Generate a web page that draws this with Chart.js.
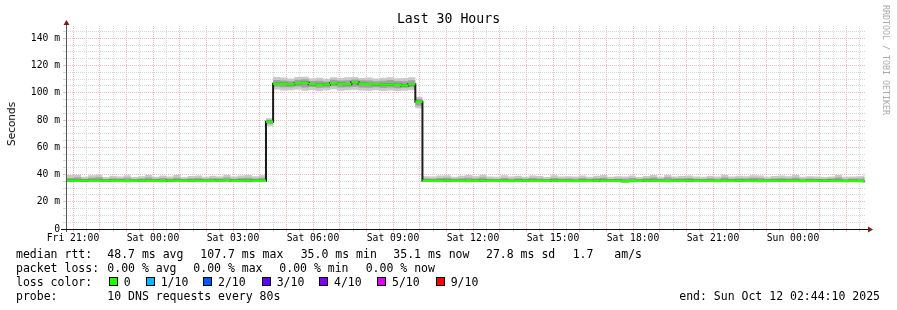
<!DOCTYPE html>
<html>
<head>
<meta charset="utf-8">
<title>Last 30 Hours</title>
<script src="https://cdn.jsdelivr.net/npm/chart.js@4/dist/chart.umd.min.js"></script>
<style>
  html, body { margin:0; padding:0; background:#fff; }
  #wrap { position:relative; width:897px; height:310px; overflow:hidden; background:#fff; font-family:'DejaVu Sans Mono', monospace; color:#000; }
  #wrap canvas { position:absolute; left:0; top:0; }
  .t { position:absolute; white-space:pre; font-size:11.5px; line-height:14px; height:14px; }
  .box { position:absolute; width:7px; height:7px; border:1px solid #000; }
  #title { position:absolute; left:0; width:897px; top:11px; text-align:center; font-size:13.2px; line-height:16px; }
  #ylab { position:absolute; left:5px; top:102px; writing-mode:vertical-rl; transform:rotate(180deg); font-family:'DejaVu Sans', sans-serif; font-size:10.5px; line-height:12px; }
  #rrd { position:absolute; left:881px; top:5px; writing-mode:vertical-rl; font-size:8.3px; line-height:10px; color:#aaa; }
</style>
</head>
<body>
<div id="wrap">
  <canvas id="c" width="897" height="310"></canvas>
  <div id="title">Last 30 Hours</div>
  <div id="ylab">Seconds</div>
  <div id="rrd">RRDTOOL / TOBI OETIKER</div>

  <div class="t" style="left:16px;top:247px">median rtt:</div>
  <div class="t" style="left:107.3px;top:247px">48.7 ms avg</div>
  <div class="t" style="left:200.3px;top:247px">107.7 ms max</div>
  <div class="t" style="left:300.7px;top:247px">35.0 ms min</div>
  <div class="t" style="left:393.3px;top:247px">35.1 ms now</div>
  <div class="t" style="left:486px;top:247px">27.8 ms sd</div>
  <div class="t" style="left:572.7px;top:247px">1.7</div>
  <div class="t" style="left:614.3px;top:247px">am/s</div>

  <div class="t" style="left:16px;top:261px">packet loss:</div>
  <div class="t" style="left:107.3px;top:261px">0.00 % avg</div>
  <div class="t" style="left:193.3px;top:261px">0.00 % max</div>
  <div class="t" style="left:279.3px;top:261px">0.00 % min</div>
  <div class="t" style="left:365.7px;top:261px">0.00 % now</div>

  <div class="t" style="left:16px;top:275px">loss color:</div>
  <div id="loss"></div>

  <div class="t" style="left:16px;top:289px">probe:</div>
  <div class="t" style="left:107.3px;top:289px">10 DNS requests every 80s</div>
  <div class="t" style="right:17px;top:289px">end: Sun Oct 12 02:44:10 2025</div>
</div>
<script>
// one value per 16 minute RRD row, first row starts right at the left edge
const median = [
  35.6, 35.5, 35.6, 35.4, 35.5, 35.6, 35.5, 35.4, 35.3, 35.5,
  35.6, 35.4, 35.5, 35.3, 35.6, 35.5, 35.4, 35.6, 35.5, 35.4,
  35.5, 35.6, 35.7, 35.5, 35.4, 35.6, 35.5, 35.4, 78.8, 106.7,
  106.6, 106.2, 107.0, 107.4, 106.2, 105.9, 106.0, 107.0, 106.7, 106.3,
  107.7, 106.7, 106.5, 106.2, 106.1, 106.0, 105.8, 105.3, 106.2, 93.4,
  35.5, 35.4, 35.5, 35.6, 35.5, 35.4, 35.3, 35.5, 35.6, 35.5,
  35.4, 35.5, 35.3, 35.4, 35.6, 35.5, 35.4, 35.5, 35.6, 35.5,
  35.4, 35.3, 35.5, 35.4, 35.6, 35.5, 35.4, 35.5, 35.0, 35.3,
  35.5, 35.6, 35.4, 35.5, 35.3, 35.4, 35.5, 35.6, 35.5, 35.4,
  35.5, 35.3, 35.4, 35.5, 35.6, 35.4, 35.5, 35.3, 35.4, 35.5,
  35.6, 35.5, 35.4, 35.3, 35.5, 35.4, 35.6, 35.5, 35.4, 35.3,
  35.4, 35.2, 35.1
];
// smoke: slowest / fastest ping of the row
const smokeHi = [
  39.6, 39.8, 38.4, 39.5, 39.9, 38.2, 39.0, 38.6, 39.4, 38.1,
  38.8, 39.7, 38.3, 39.2, 38.5, 39.6, 38.2, 38.9, 39.3, 38.4,
  39.1, 38.6, 39.8, 38.5, 39.2, 39.7, 38.8, 39.5, 81.3, 111.6,
  111.2, 110.4, 111.5, 111.8, 110.6, 111.0, 110.2, 111.4, 110.8, 111.3,
  111.6, 110.9, 111.2, 110.5, 111.0, 111.4, 110.6, 110.8, 111.3, 97.0,
  38.7, 38.5, 39.2, 39.5, 38.4, 39.1, 39.6, 38.8, 39.8, 38.5,
  38.3, 39.4, 38.6, 39.0, 38.4, 39.2, 38.9, 38.2, 39.4, 38.6,
  38.8, 38.5, 39.3, 38.4, 39.0, 39.6, 38.3, 38.7, 38.5, 39.2,
  38.2, 38.9, 39.7, 38.4, 39.9, 38.6, 38.9, 39.3, 38.5, 38.4,
  39.1, 38.6, 39.8, 38.5, 39.0, 38.7, 39.5, 39.2, 38.4, 38.9,
  39.3, 38.8, 39.6, 38.4, 38.7, 38.5, 38.2, 38.6, 39.8, 38.3,
  38.6, 38.8, 39.9
];
const smokeLo = [
  35.1, 35.0, 35.2, 35.0, 35.1, 35.2, 35.1, 35.0, 35.0, 35.1,
  35.2, 35.0, 35.1, 35.0, 35.2, 35.1, 35.0, 35.2, 35.1, 35.0,
  35.1, 35.2, 35.3, 35.1, 35.0, 35.2, 35.1, 35.0, 75.6, 102.3,
  101.6, 101.9, 102.4, 101.4, 102.0, 101.3, 101.8, 102.6, 101.5, 101.9,
  102.2, 101.7, 101.4, 101.8, 101.3, 101.6, 101.2, 101.5, 101.9, 88.6,
  35.1, 35.0, 35.1, 35.2, 35.1, 35.0, 35.0, 35.1, 35.2, 35.1,
  35.0, 35.1, 35.0, 35.0, 35.2, 35.1, 35.0, 35.1, 35.2, 35.1,
  35.0, 35.0, 35.1, 35.0, 35.2, 35.1, 35.0, 35.1, 34.8, 35.0,
  35.1, 35.2, 35.0, 35.1, 35.0, 35.0, 35.1, 35.2, 35.1, 35.0,
  35.1, 35.0, 35.0, 35.1, 35.2, 35.0, 35.1, 35.0, 35.0, 35.1,
  35.2, 35.1, 35.0, 35.0, 35.1, 35.0, 35.2, 35.1, 35.0, 35.0,
  35.0, 34.9, 34.9
];
// inner, darker part of the smoke
const coreHi = [
  37.4, 37.9, 36.8, 37.6, 38.0, 36.7, 37.2, 37.0, 37.7, 36.6,
  37.1, 37.8, 36.9, 37.5, 36.8, 37.6, 36.7, 37.3, 37.5, 36.9,
  37.3, 37.0, 37.8, 36.9, 37.4, 37.7, 37.1, 37.6, 80.2, 109.4,
  109.0, 108.4, 109.6, 110.0, 108.6, 108.8, 108.3, 109.5, 109.0, 109.2,
  109.8, 109.1, 109.0, 108.5, 108.9, 109.3, 108.6, 108.4, 109.1, 95.6,
  37.0, 36.8, 37.4, 37.6, 36.8, 37.3, 37.7, 37.0, 37.8, 36.9,
  36.7, 37.5, 36.9, 37.2, 36.8, 37.4, 37.1, 36.6, 37.5, 36.9,
  37.1, 36.8, 37.5, 36.8, 37.2, 37.7, 36.7, 37.0, 36.9, 37.4,
  36.6, 37.2, 37.8, 36.8, 37.9, 37.0, 37.2, 37.5, 36.8, 36.7,
  37.3, 36.9, 37.8, 36.8, 37.2, 37.0, 37.6, 37.4, 36.7, 37.1,
  37.5, 37.1, 37.7, 36.8, 37.0, 36.9, 36.6, 37.0, 37.8, 36.7,
  37.0, 37.1, 38.0
];
const coreLo = [
  35.3, 35.2, 35.3, 35.2, 35.3, 35.4, 35.3, 35.2, 35.1, 35.3,
  35.4, 35.2, 35.3, 35.1, 35.4, 35.3, 35.2, 35.4, 35.3, 35.2,
  35.3, 35.4, 35.5, 35.3, 35.2, 35.4, 35.3, 35.2, 77.0, 104.4,
  104.0, 104.1, 104.6, 103.8, 104.2, 103.7, 103.9, 104.7, 103.8, 104.0,
  104.5, 103.9, 103.6, 104.0, 103.5, 103.8, 103.4, 103.6, 104.0, 90.5,
  35.3, 35.2, 35.3, 35.4, 35.3, 35.2, 35.1, 35.3, 35.4, 35.3,
  35.2, 35.3, 35.1, 35.2, 35.4, 35.3, 35.2, 35.3, 35.4, 35.3,
  35.2, 35.1, 35.3, 35.2, 35.4, 35.3, 35.2, 35.3, 34.9, 35.1,
  35.3, 35.4, 35.2, 35.3, 35.1, 35.2, 35.3, 35.4, 35.3, 35.2,
  35.3, 35.1, 35.2, 35.3, 35.4, 35.2, 35.3, 35.1, 35.2, 35.3,
  35.4, 35.3, 35.2, 35.1, 35.3, 35.2, 35.4, 35.3, 35.2, 35.1,
  35.2, 35.0, 35.0
];
const xLabels = ['Fri 21:00', 'Sat 00:00', 'Sat 03:00', 'Sat 06:00', 'Sat 09:00',
                 'Sat 12:00', 'Sat 15:00', 'Sat 18:00', 'Sat 21:00', 'Sun 00:00'];
const lossLabels = ['0', '1/10', '2/10', '3/10', '4/10', '5/10', '9/10'];
const lossColors = ['#26ff00', '#00b8ff', '#0059ff', '#5e00ff', '#7e00ff', '#dd00ff', '#ff0000'];

// time axis in hours since Fri 20:44:10
const T0 = 0.033, STEP = 16 / 60, END_H = 29.95;
const FIRST_TICK = 0.2639;   // Fri 21:00
const RED = '#f5b8b8', GREY = '#d6d6d6';
const MONO = "'DejaVu Sans Mono', monospace";

(function () {
  // loss colour legend
  const lossX = [108.7, 145.7, 203, 261.7, 319, 377, 435.7];
  const loss = document.getElementById('loss');
  lossLabels.forEach((l, i) => {
    loss.insertAdjacentHTML('beforeend',
      `<div class="box" style="left:${lossX[i]}px;top:277px;background:${lossColors[i]}"></div>` +
      `<div class="t" style="left:${lossX[i] + 15}px;top:275px">${l}</div>`);
  });

  function steps(vals) {
    const pts = vals.map((v, i) => ({ x: T0 + i * STEP, y: v }));
    pts.push({ x: END_H, y: vals[vals.length - 1] });
    return pts;
  }
  // only the flat parts, the jumps stay black
  function flats(vals) {
    const pts = [];
    vals.forEach((v, i) => {
      const a = T0 + i * STEP, b = Math.min(a + STEP, END_H);
      pts.push({ x: a, y: v }, { x: b, y: v }, { x: b, y: null });
    });
    return pts;
  }

  const axes = {
    id: 'axes',
    afterDraw(chart) {
      const { ctx, chartArea: a } = chart;
      const l = a.left + 0.5, b = a.bottom + 0.5;
      ctx.save();
      ctx.lineWidth = 1;
      ctx.strokeStyle = '#555';
      ctx.beginPath(); ctx.moveTo(l, a.bottom + 3); ctx.lineTo(l, a.top - 3); ctx.stroke();
      ctx.strokeStyle = '#111';
      ctx.beginPath(); ctx.moveTo(a.left - 5, b); ctx.lineTo(a.right + 2, b); ctx.stroke();
      ctx.fillStyle = '#7a1c1c';
      ctx.beginPath(); ctx.moveTo(l, a.top - 6); ctx.lineTo(l - 3, a.top - 1); ctx.lineTo(l + 3, a.top - 1); ctx.fill();
      ctx.beginPath(); ctx.moveTo(a.right + 7, b); ctx.lineTo(a.right + 2, b - 3); ctx.lineTo(a.right + 2, b + 3); ctx.fill();
      ctx.restore();
    }
  };

  const band = { pointRadius: 0, borderWidth: 0, borderColor: 'transparent', stepped: true };

  new Chart(document.getElementById('c'), {
    type: 'line',
    data: {
      datasets: [
        { data: flats(median), borderColor: '#26ff00', borderWidth: 2.5, borderCapStyle: 'butt', pointRadius: 0, spanGaps: false, order: 0 },
        { data: steps(median), stepped: true, borderColor: '#1c1c1c', borderWidth: 2, pointRadius: 0, order: 1 },
        { data: steps(coreHi), ...band, fill: '+1', backgroundColor: '#a2a2a2', order: 2 },
        { data: steps(coreLo), ...band, order: 3 },
        { data: steps(smokeHi), ...band, fill: '+1', backgroundColor: '#c9c9c9', order: 4 },
        { data: steps(smokeLo), ...band, order: 5 },
      ]
    },
    options: {
      responsive: false,
      animation: false,
      devicePixelRatio: 1,
      events: [],
      layout: { padding: { top: 26, right: 31, bottom: 61, left: 0 } },
      plugins: { legend: { display: false }, tooltip: { enabled: false }, title: { display: false } },
      scales: {
        x: {
          type: 'linear', min: 0, max: 30,
          afterBuildTicks: s => {
            const t = [];
            for (let h = FIRST_TICK; h < 30; h += 0.5) t.push({ value: h });
            s.ticks = t;
          },
          afterFit: s => { s.height = 20; },
          grid: { color: c => c.index % 2 === 0 ? RED : GREY, tickLength: 3, tickBorderDash: [] },
          border: { display: false, dash: [1, 1] },
          ticks: {
            autoSkip: false, maxRotation: 0, padding: 1, color: '#000',
            font: { family: MONO, size: 9.7 },
            callback: (v, i) => i % 6 === 0 ? xLabels[i / 6] : ''
          }
        },
        y: {
          min: 0, max: 149,
          afterBuildTicks: s => {
            const t = [];
            for (let v = 0; v <= 145; v += 5) t.push({ value: v });
            s.ticks = t;
          },
          afterFit: s => { s.width = 66; },
          grid: { color: c => c.tick && c.tick.value % 20 === 0 ? RED : GREY, tickLength: 3, tickBorderDash: [] },
          border: { display: false, dash: [1, 1] },
          ticks: {
            autoSkip: false, padding: 3, color: '#000',
            font: { family: MONO, size: 9.7 },
            callback: v => v % 20 === 0 ? (v === 0 ? '0' : v + ' m') : ''
          }
        }
      }
    },
    plugins: [axes]
  });
})();
</script>
</body>
</html>
